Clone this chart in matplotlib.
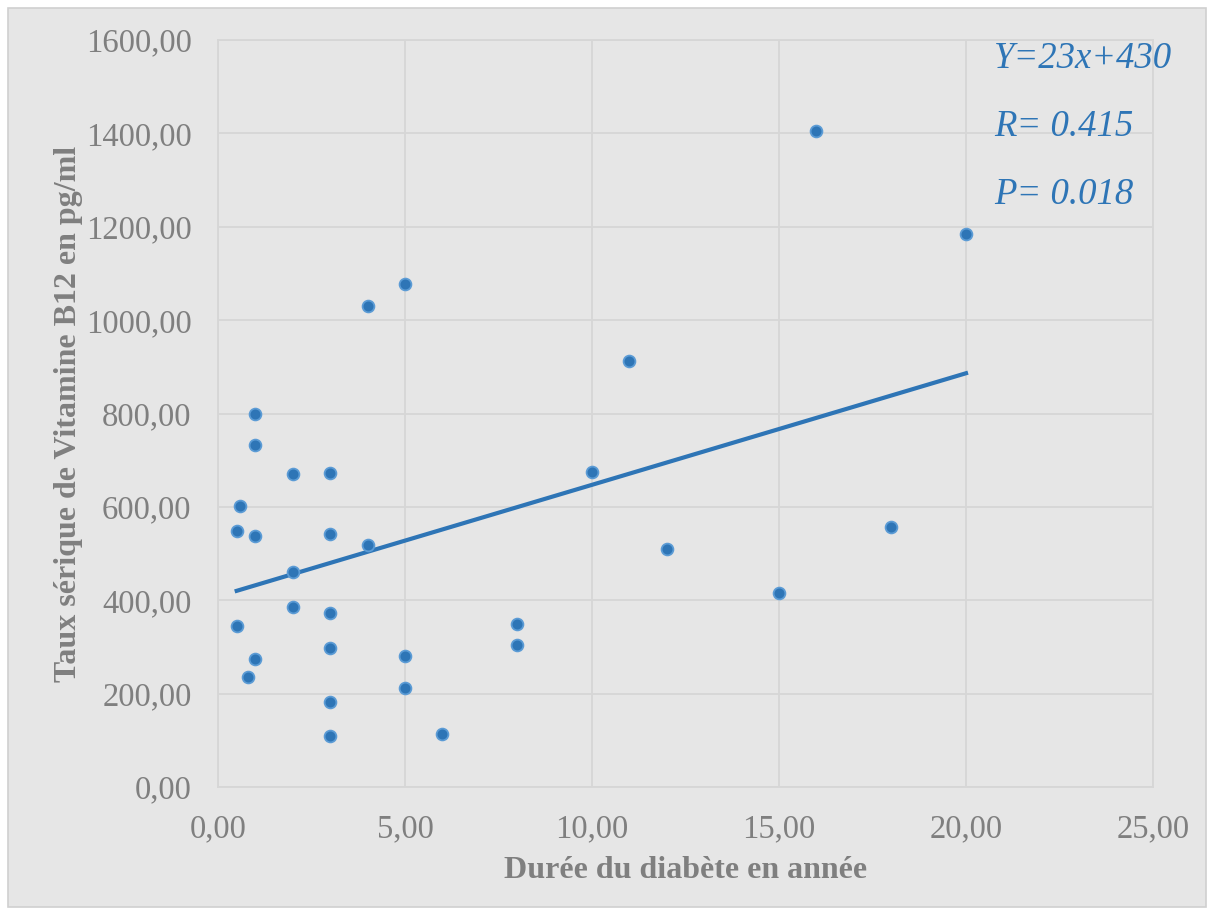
import matplotlib
matplotlib.use('Agg')
import matplotlib.pyplot as plt
from matplotlib.ticker import FuncFormatter
from matplotlib.patches import Rectangle
import numpy as np

# values
duree = [0.5, 0.6, 0.5, 0.8, 1, 1, 1, 1, 2, 2, 2, 3, 3, 3, 3, 3, 3,
         4, 4, 5, 5, 5, 6, 8, 8, 10, 11, 12, 15, 16, 18, 20]
b12 = [548, 601, 345, 236, 798, 732, 537, 275, 670, 460, 385, 673, 542, 373, 298, 181, 109,
       1030, 518, 1077, 280, 212, 113, 349, 305, 674, 912, 510, 415, 1405, 556, 1184]
annotations = ["Y=23x+430", "R= 0.415", "P= 0.018"]

bg = '#e6e6e6'
grey = '#7f7f7f'
blue = '#2e75b6'

fig = plt.figure(figsize=(12.14, 9.15), dpi=100, facecolor='white')
fig.patches.append(Rectangle((8/1214, 8/915), 1 - 16/1214, 1 - 16/915, transform=fig.transFigure,
                             facecolor=bg, edgecolor='#d0d0d0', linewidth=1.2, zorder=-1))
ax = fig.add_axes([218/1214, 1 - 787/915, (1153 - 218)/1214, (787 - 40)/915])
ax.set_facecolor(bg)

ax.set_xlim(0, 25)
ax.set_ylim(0, 1600)
ax.set_xticks(np.arange(0, 26, 5))
ax.set_yticks(np.arange(0, 1601, 200))
fmt = FuncFormatter(lambda v, p: f"{v:.2f}".replace('.', ','))
ax.xaxis.set_major_formatter(fmt)
ax.yaxis.set_major_formatter(fmt)
ax.grid(True, color='#d6d6d6', linewidth=1.3)
ax.set_axisbelow(True)
for s in ax.spines.values():
    s.set_color('#d6d6d6')
    s.set_linewidth(1.3)
ax.tick_params(length=0, labelsize=23.5, labelcolor=grey)
ax.tick_params(axis='y', pad=19)
ax.tick_params(axis='x', pad=19)
for lab in ax.get_xticklabels() + ax.get_yticklabels():
    lab.set_family('Liberation Serif')

ax.scatter(duree, b12, s=72, color=blue, edgecolors='#5b9bd5', linewidths=1.3, zorder=3)

# linear trend
k, b = np.polyfit(duree, b12, 1)
xs = np.array([min(duree), max(duree)])
ax.plot(xs, k * xs + b, color=blue, linewidth=3, zorder=2)

ax.set_xlabel("Durée du diabète en année", family='Liberation Serif', fontweight='bold',
              fontsize=23, color=grey, labelpad=9)
ax.set_ylabel("Taux sérique de Vitamine B12 en pg/ml", family='Liberation Serif', fontweight='bold',
              fontsize=23, color=grey, labelpad=2)

for i, t in enumerate(annotations):
    fig.text(994/1214, 1 - (59 + i * 68)/915, t, family='Liberation Serif', style='italic',
             fontsize=26.5, color=blue, va='center', ha='left')

fig.savefig('out.png', dpi=100, facecolor='white')
